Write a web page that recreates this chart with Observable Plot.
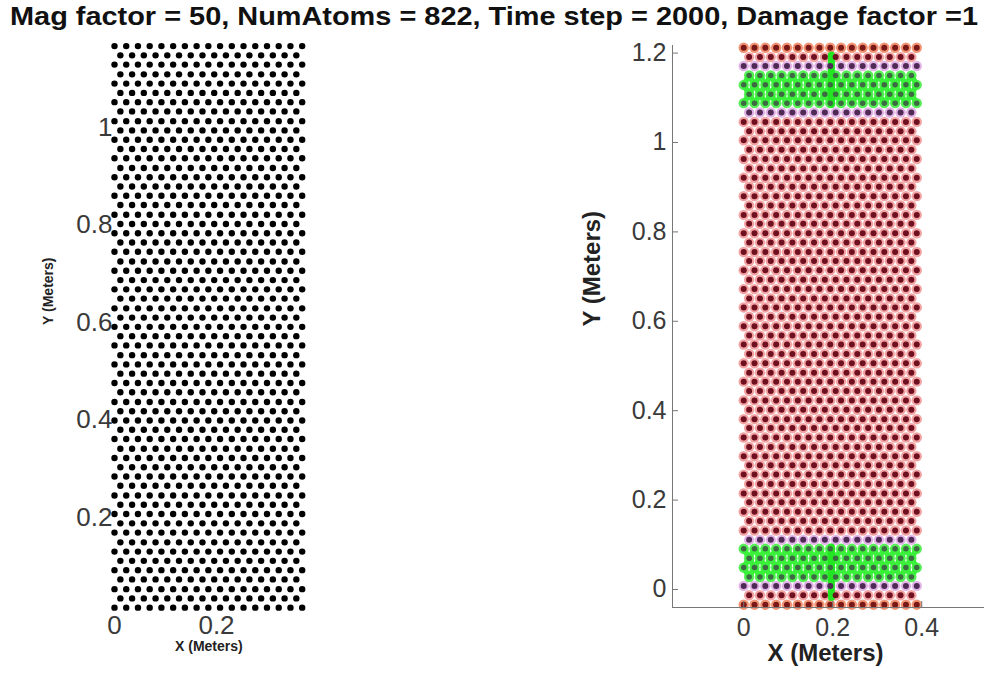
<!DOCTYPE html>
<html>
<head>
<meta charset="utf-8">
<script src="https://cdn.jsdelivr.net/npm/d3@7"></script>
<script src="https://cdn.jsdelivr.net/npm/@observablehq/plot@0.6"></script>
<style>
  html, body { margin: 0; padding: 0; background: #fff; }
  #fig { position: relative; width: 984px; height: 677px; overflow: hidden;
         font-family: "Liberation Sans", Arial, sans-serif; }
  #title { position: absolute; left: 0; top: 4px; white-space: nowrap; font-weight: bold;
           font-size: 25px; line-height: 25px; color: #111; transform-origin: 0 0; z-index: 2; }
  #left { position: absolute; left: 0; top: 30px; }
  #right { position: absolute; left: 560px; top: 30px; }
</style>
</head>
<body>
<div id="fig">
  <div id="left"></div>
  <div id="right"></div>
  <div id="title">Mag factor = 50, NumAtoms = 822, Time step = 2000, Damage factor =1</div>
</div>
<script>
// ---- Reference lattice (left panel), meters ----
const leftRowY = [0.015, 0.034, 0.053, 0.073, 0.092, 0.111, 0.130, 0.149, 0.169, 0.188,
  0.207, 0.226, 0.245, 0.265, 0.284, 0.303, 0.322, 0.341, 0.361, 0.380,
  0.399, 0.418, 0.437, 0.457, 0.476, 0.495, 0.514, 0.533, 0.553, 0.572,
  0.591, 0.610, 0.629, 0.649, 0.668, 0.687, 0.706, 0.725, 0.745, 0.764,
  0.783, 0.802, 0.821, 0.841, 0.860, 0.879, 0.898, 0.917, 0.937, 0.956,
  0.975, 0.994, 1.013, 1.033, 1.052, 1.071, 1.090, 1.109, 1.129, 1.148, 1.167];
const leftColX = [0, 0.023, 0.046, 0.069, 0.092, 0.115, 0.138, 0.161, 0.184,
  0.207, 0.230, 0.253, 0.276, 0.299, 0.322, 0.345, 0.368];
const leftColXShifted = [0.0115, 0.0345, 0.0575, 0.0805, 0.1035, 0.1265, 0.1495, 0.1725,
  0.1955, 0.2185, 0.2415, 0.2645, 0.2875, 0.3105, 0.3335, 0.3565];
const leftXTicks = [0, 0.2];
const leftYTicks = [0.2, 0.4, 0.6, 0.8, 1];

// ---- Deformed lattice at time step 2000 (right panel), meters ----
const rightRowY = [-0.034, -0.013, 0.008, 0.028, 0.049, 0.070, 0.091, 0.111, 0.132, 0.153,
  0.174, 0.195, 0.215, 0.236, 0.257, 0.278, 0.298, 0.319, 0.340, 0.361,
  0.381, 0.402, 0.423, 0.444, 0.465, 0.485, 0.506, 0.527, 0.548, 0.568,
  0.589, 0.610, 0.631, 0.651, 0.672, 0.693, 0.714, 0.735, 0.755, 0.776,
  0.797, 0.818, 0.838, 0.859, 0.880, 0.901, 0.921, 0.942, 0.963, 0.984,
  1.005, 1.025, 1.046, 1.067, 1.088, 1.108, 1.129, 1.150, 1.171, 1.191, 1.212];
const rightColX = [0, 0.0243, 0.0486, 0.0729, 0.0972, 0.1215, 0.1458, 0.1701, 0.1944,
  0.2187, 0.2430, 0.2673, 0.2916, 0.3159, 0.3402, 0.3645, 0.3888];
const rightColXShifted = [0.0122, 0.0365, 0.0608, 0.0851, 0.1094, 0.1337, 0.1580, 0.1823,
  0.2066, 0.2309, 0.2552, 0.2795, 0.3038, 0.3281, 0.3524, 0.3767];
const damagedRows = [3, 4, 5, 6, 54, 55, 56, 57];
const interfaceRows = [2, 7, 53, 58];
const edgeRows = [0, 60];
const crackStreaks = [
  {x: 0.197, y1: 1.085, y2: 1.196},
  {x: 0.197, y1: 0.095, y2: -0.018}
];
const rightXDomain = [-0.16, 0.541];
const rightYDomain = [-0.0403, 1.217];
const rightXTicks = [0, 0.2, 0.4];
const rightYTicks = [0, 0.2, 0.4, 0.6, 0.8, 1, 1.2];

const fontFamily = '"Liberation Sans", Arial, sans-serif';
const fmt = d => `${d}`;

// Build atoms from rows; even rows hold the full column set, odd rows the shifted one.
const leftAtoms = leftRowY.flatMap((y, i) =>
  (i % 2 === 0 ? leftColX : leftColXShifted).map(x => ({x, y})));

const rightAtoms = rightRowY.flatMap((y, i) =>
  (i % 2 === 0 ? rightColX : rightColXShifted).map(x => ({
    x, y, row: i,
    kind: damagedRows.includes(i) ? "damaged"
        : interfaceRows.includes(i) ? "interface"
        : edgeRows.includes(i) ? "edge" : "bulk"
  })));
const damagedAtoms = rightAtoms.filter(d => d.kind === "damaged");

// Broken-bond links between neighbouring atoms of consecutive damaged rows
const damageLinks = [];
for (const a of damagedAtoms) {
  for (const b of damagedAtoms) {
    if (b.row === a.row + 1 && Math.abs(b.x - a.x) < 0.015) damageLinks.push({a, b});
  }
}

const shellColor = {bulk: "#f3a3a3", interface: "#e2b3e6", edge: "#f29474", damaged: "#58ee58"};
const coreColor = {bulk: "#6e1020", interface: "#4f2a55", edge: "#7a1818", damaged: "#3d6a42"};

// ---- Left panel ----
const leftPlot = Plot.plot({
  width: 330, height: 647,
  marginTop: 9.25, marginBottom: 67.4, marginLeft: 114, marginRight: 27.3,
  x: {domain: [0, 0.37]},
  y: {domain: [0.01, 1.18]},
  style: {fontFamily, fontSize: "26px", color: "#3a3a3a", background: "transparent", overflow: "visible"},
  marks: [
    Plot.axisX({ticks: leftXTicks, tickSize: 0, tickPadding: 5, tickFormat: fmt, label: null}),
    Plot.axisY({ticks: leftYTicks, tickSize: 0, tickPadding: 2, tickFormat: fmt, label: null}),
    Plot.dot(leftAtoms, {x: "x", y: "y", r: 3.2, fill: "#000", stroke: "none"}),
    Plot.text(["Y (Meters)"], {text: d => d, frameAnchor: "left", rotate: -90, dx: -66,
      fontSize: 14, fontWeight: "bold", fill: "#222"}),
    Plot.text(["X (Meters)"], {text: d => d, frameAnchor: "bottom", dy: 41,
      fontSize: 14, fontWeight: "bold", fill: "#222"})
  ]
});
document.getElementById("left").appendChild(leftPlot);

// ---- Right panel ----
const rightPlot = Plot.plot({
  width: 424, height: 647,
  marginTop: 15, marginBottom: 70, marginLeft: 112, marginRight: 0,
  x: {domain: rightXDomain},
  y: {domain: rightYDomain},
  style: {fontFamily, fontSize: "25px", color: "#3a3a3a", background: "transparent", overflow: "visible"},
  marks: [
    Plot.dot(rightAtoms, {x: "x", y: "y", r: 5.2, fill: d => shellColor[d.kind], stroke: "none"}),
    Plot.link(damageLinks, {x1: d => d.a.x, y1: d => d.a.y, x2: d => d.b.x, y2: d => d.b.y,
      stroke: "#3af03a", strokeWidth: 5.5}),
    Plot.link(crackStreaks, {x1: "x", x2: "x", y1: "y1", y2: "y2",
      stroke: "#22e622", strokeWidth: 7, strokeLinecap: "round"}),
    Plot.dot(rightAtoms, {x: "x", y: "y", r: d => d.kind === "damaged" ? 2.2 : 2.6,
      fill: d => coreColor[d.kind], stroke: "none"}),
    Plot.ruleX([rightXDomain[0]], {stroke: "#777", strokeWidth: 1}),
    Plot.ruleY([rightYDomain[0]], {stroke: "#777", strokeWidth: 1}),
    Plot.axisY({ticks: rightYTicks, tickSize: -6, tickPadding: 12, stroke: "#777",
      tickFormat: fmt, label: null}),
    Plot.axisX({ticks: rightXTicks, tickSize: -6, tickPadding: 17, stroke: "#777",
      tickFormat: fmt, label: null}),
    Plot.text(["Y (Meters)"], {text: d => d, frameAnchor: "left", rotate: -90, dx: -80,
      fontSize: 24, fontWeight: "bold", fill: "#222"}),
    Plot.text(["X (Meters)"], {text: d => d, frameAnchor: "bottom", dy: 53, dx: -3,
      fontSize: 24, fontWeight: "bold", fill: "#222"})
  ]
});
document.getElementById("right").appendChild(rightPlot);

// Fit the title across the figure width
const title = document.getElementById("title");
const w = title.getBoundingClientRect().width;
title.style.transform = `translateX(10px) scaleX(${968 / w})`;
</script>
</body>
</html>
